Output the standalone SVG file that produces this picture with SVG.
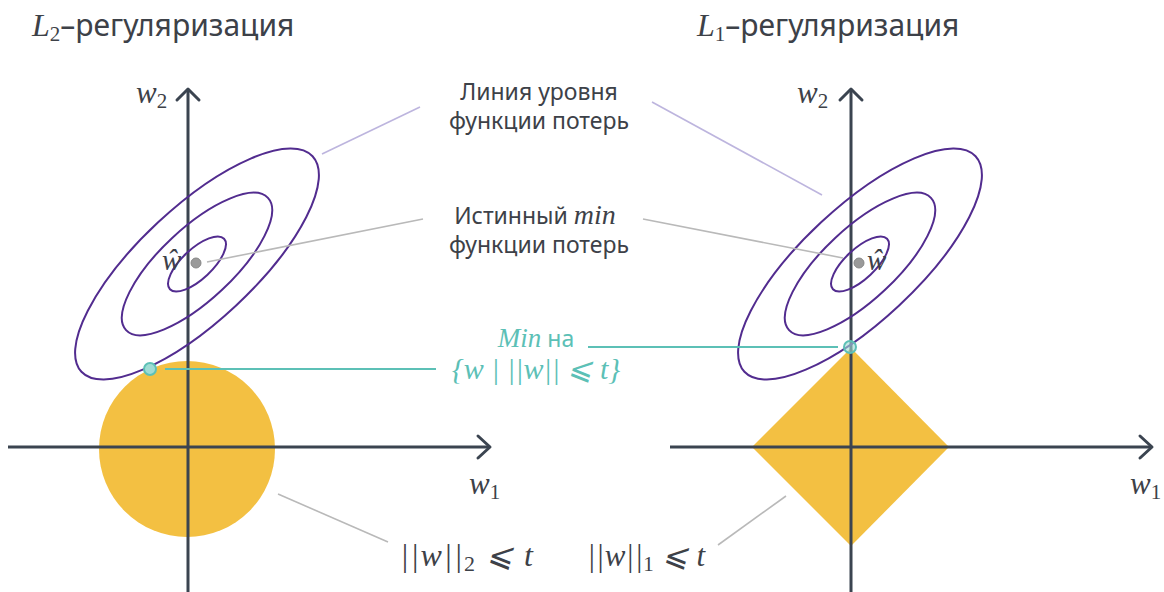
<svg xmlns="http://www.w3.org/2000/svg" width="1164" height="592" viewBox="0 0 1164 592">
<defs>
<style>
.axis{stroke:#3b4450;stroke-width:3;fill:none}
.head{stroke:#3b4450;stroke-width:3;fill:none;stroke-linecap:round;stroke-linejoin:round}
.ell{stroke:#522c8f;stroke-width:2;fill:none}
.lav{stroke:#bdb5de;stroke-width:1.6}
.gry{stroke:#b9b9b9;stroke-width:1.6}
.teal{stroke:#5cc0b6;stroke-width:2}
.sans{font-family:"Noto Sans","Open Sans",sans-serif;fill:#3d4148}
.math{font-family:"Liberation Serif","DejaVu Serif",serif;font-style:italic;fill:#3d4148}
.sub{font-family:"Liberation Serif","DejaVu Serif",serif;font-style:normal}
.tealtxt{fill:#5cc0b6}
</style>
</defs>

<g id="titles">
<text x="32" y="36" font-size="30" class="sans"><tspan class="math" font-size="32">L</tspan><tspan class="sub" font-size="21" dy="5">2</tspan><tspan dy="-5">–регуляризация</tspan></text>
<text x="697" y="36" font-size="30" class="sans"><tspan class="math" font-size="32">L</tspan><tspan class="sub" font-size="21" dy="5">1</tspan><tspan dy="-5">–регуляризация</tspan></text>
</g>

<g id="constraint-l2"><circle cx="187" cy="449" r="88" fill="#f3c042"/></g>
<g id="constraint-l1"><polygon points="851,348 949,447 851,546 752,447" fill="#f3c042"/></g>

<g id="axes-left">
<line class="axis" x1="8" y1="447" x2="489" y2="447"/>
<polyline class="head" points="478,436 490,447 478,458"/>
<line class="axis" x1="188" y1="592" x2="188" y2="90"/>
<polyline class="head" points="177,100 188,89 199,100"/>
<text x="136" y="103" font-size="31" class="math">w<tspan class="sub" font-size="21" dy="5">2</tspan></text>
<text x="469" y="494" font-size="31" class="math">w<tspan class="sub" font-size="21" dy="5">1</tspan></text>
</g>

<g id="axes-right">
<line class="axis" x1="670" y1="447" x2="1151" y2="447"/>
<polyline class="head" points="1140,436 1152,447 1140,458"/>
<line class="axis" x1="851" y1="592" x2="851" y2="90"/>
<polyline class="head" points="840,100 851,89 862,100"/>
<text x="797" y="103" font-size="31" class="math">w<tspan class="sub" font-size="21" dy="5">2</tspan></text>
<text x="1130" y="494" font-size="31" class="math">w<tspan class="sub" font-size="21" dy="5">1</tspan></text>
</g>

<g id="contours-left" transform="translate(197,264) rotate(-43)">
<ellipse class="ell" rx="158" ry="57"/>
<ellipse class="ell" rx="97" ry="36"/>
<ellipse class="ell" rx="37" ry="15"/>
</g>
<g id="contours-right" transform="translate(860,264) rotate(-43)">
<ellipse class="ell" rx="158" ry="57"/>
<ellipse class="ell" rx="97" ry="36"/>
<ellipse class="ell" rx="37" ry="15"/>
</g>

<g id="connectors">
<line class="lav" x1="322" y1="154" x2="420" y2="107"/>
<line class="lav" x1="652" y1="102" x2="822" y2="195"/>
<line class="gry" x1="207" y1="262" x2="423" y2="219"/>
<line class="gry" x1="643" y1="219" x2="843" y2="258"/>
<line class="gry" x1="278" y1="494" x2="388" y2="542"/>
<line class="gry" x1="718" y1="545" x2="786" y2="496"/>
<line class="teal" x1="165" y1="369" x2="436" y2="369"/>
<line class="teal" x1="588" y1="347" x2="838" y2="347"/>
</g>

<g id="min-left">
<circle cx="196" cy="263" r="5" fill="#9a9a9a" stroke="#888" stroke-width="1"/>
<text x="162" y="270" font-size="29" class="math">ŵ</text>
</g>
<g id="min-right">
<circle cx="859" cy="263" r="5" fill="#9a9a9a" stroke="#888" stroke-width="1"/>
<text x="867" y="270" font-size="29" class="math">ŵ</text>
</g>

<g id="touch-left"><circle cx="150" cy="369" r="6" fill="#9fdcd4" stroke="#5cc0b6" stroke-width="2"/></g>
<g id="touch-right"><circle cx="850" cy="347" r="6" fill="#9fdcd4" fill-opacity="0.6" stroke="#5cc0b6" stroke-width="2"/></g>

<g id="label-level">
<text x="539" y="100" font-size="23" class="sans" text-anchor="middle">Линия уровня</text>
<text x="539" y="129" font-size="23" class="sans" text-anchor="middle">функции потерь</text>
</g>
<g id="label-truemin">
<text x="535" y="224" font-size="23" class="sans" text-anchor="middle">Истинный <tspan class="math" font-size="28">min</tspan></text>
<text x="539" y="253" font-size="23" class="sans" text-anchor="middle">функции потерь</text>
</g>
<g id="label-constrmin">
<text x="536" y="347" font-size="23" class="sans tealtxt" text-anchor="middle"><tspan class="math tealtxt" font-size="27">Min</tspan> на</text>
<text x="536" y="379" font-size="30" class="math tealtxt" text-anchor="middle">{w | ||w|| ⩽ t}</text>
</g>
<g id="label-l2">
<text x="400" y="566" font-size="32" class="math" letter-spacing="1.5">||w||<tspan class="sub" font-size="22" dy="5">2</tspan><tspan dy="-5"> ⩽ t</tspan></text>
</g>
<g id="label-l1">
<text x="587" y="566" font-size="31" class="math" letter-spacing="0.3">||w||<tspan class="sub" font-size="21" dy="5">1</tspan><tspan dy="-5"> ⩽ t</tspan></text>
</g>
</svg>
